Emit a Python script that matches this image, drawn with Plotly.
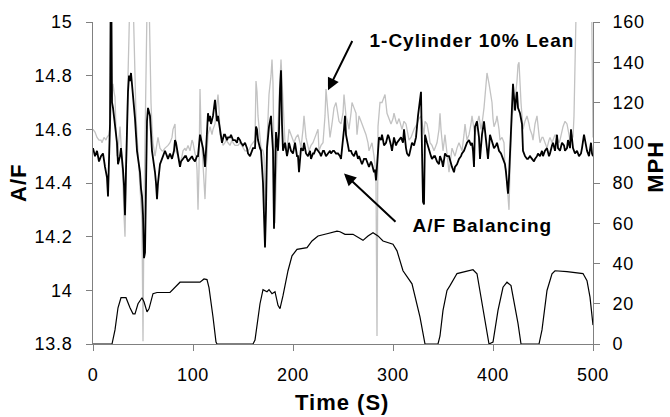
import plotly.graph_objects as go

# ---- A/F balancing (black) ----
t_bal = [0, 2, 4, 6, 8, 10, 12, 14, 15, 16, 17, 18, 19, 20, 22, 24, 25, 27, 28, 29,
         30, 31, 32, 33, 34, 35, 36, 37, 38, 39, 40, 42, 44, 46, 47, 48, 49, 50, 51, 52,
         53, 54, 55, 57, 59, 61, 62, 63, 64, 65, 67, 69, 70, 72, 74, 75, 77, 79, 81, 82,
         83, 85, 87, 88, 90, 92, 93, 95, 97, 99, 100, 102, 104, 105, 107, 109, 110, 111, 112, 113,
         115, 116, 117, 118, 120, 122, 123, 124, 125, 127, 129, 131, 132, 134, 135, 137, 138, 140, 142, 144,
         145, 147, 148, 150, 152, 154, 155, 157, 159, 160, 162, 163, 164, 165, 167, 168, 170, 171, 172, 173,
         174, 176, 178, 179, 180, 181, 182, 183, 185, 186, 187, 188, 189, 190, 192, 194, 195, 196, 198, 200,
         202, 204, 205, 206, 208, 210, 211, 213, 215, 217, 218, 220, 221, 223, 225, 227, 228, 230, 231, 233,
         235, 237, 238, 240, 241, 243, 245, 247, 248, 249, 251, 252, 253, 255, 256, 258, 259, 261, 263, 265,
         266, 268, 269, 271, 273, 275, 276, 278, 279, 281, 282, 283, 284, 286, 288, 289, 291, 293, 295, 296,
         298, 299, 301, 303, 304, 306, 308, 310, 311, 313, 314, 316, 317, 319, 321, 323, 325, 327, 328, 329,
         330, 331, 332, 334, 336, 338, 339, 341, 342, 344, 346, 347, 349, 350, 352, 354, 356, 358, 359, 361,
         362, 364, 366, 368, 369, 371, 372, 374, 376, 378, 379, 380, 381, 382, 384, 385, 386, 387, 388, 389,
         391, 393, 394, 395, 397, 399, 401, 403, 404, 406, 408, 409, 411, 412, 413, 414, 415, 416, 417, 418,
         419, 420, 421, 422, 423, 424, 425, 427, 429, 430, 432, 434, 435, 437, 439, 441, 442, 444, 445, 447,
         449, 450, 452, 454, 456, 457, 459, 460, 462, 464, 465, 467, 469, 471, 472, 474, 475, 477, 478, 480,
         482, 484, 486, 488, 489, 491, 493, 494, 496, 498, 499, 500]
af_bal = [14.53, 14.50, 14.52, 14.48, 14.50, 14.51, 14.46, 14.42, 14.35, 14.48, 14.62, 15.30, 14.70, 14.68, 14.62, 14.55, 14.47, 14.50, 14.53, 14.50,
          14.45, 14.39, 14.28, 14.45, 14.61, 14.74, 14.80, 14.78, 14.81, 14.77, 14.72, 14.64, 14.52, 14.47, 14.44, 14.38, 14.35, 14.28, 14.12, 14.14,
          14.42, 14.63, 14.68, 14.65, 14.52, 14.47, 14.44, 14.40, 14.34, 14.40, 14.47, 14.49, 14.50, 14.52, 14.50, 14.49, 14.51, 14.49, 14.52, 14.56,
          14.55, 14.51, 14.46, 14.48, 14.49, 14.50, 14.50, 14.48, 14.49, 14.50, 14.49, 14.48, 14.50, 14.50, 14.58, 14.55, 14.53, 14.50, 14.46, 14.52,
          14.66, 14.63, 14.65, 14.62, 14.65, 14.71, 14.67, 14.63, 14.65, 14.60, 14.55, 14.58, 14.58, 14.56, 14.57, 14.57, 14.58, 14.56, 14.56, 14.55,
          14.57, 14.56, 14.55, 14.54, 14.55, 14.53, 14.51, 14.50, 14.52, 14.53, 14.53, 14.61, 14.60, 14.56, 14.53, 14.52, 14.40, 14.30, 14.16, 14.30,
          14.53, 14.61, 14.65, 14.58, 14.52, 14.23, 14.45, 14.59, 14.52, 14.59, 14.75, 14.82, 14.62, 14.52, 14.55, 14.50, 14.52, 14.55, 14.52, 14.51,
          14.55, 14.50, 14.50, 14.44, 14.53, 14.52, 14.55, 14.51, 14.50, 14.52, 14.49, 14.51, 14.51, 14.53, 14.52, 14.51, 14.50, 14.52, 14.52, 14.50,
          14.51, 14.52, 14.51, 14.52, 14.52, 14.51, 14.51, 14.50, 14.49, 14.52, 14.60, 14.65, 14.58, 14.54, 14.52, 14.52, 14.51, 14.50, 14.52, 14.49,
          14.50, 14.48, 14.47, 14.49, 14.49, 14.47, 14.46, 14.48, 14.47, 14.44, 14.45, 14.41, 14.47, 14.57, 14.56, 14.58, 14.54, 14.55, 14.58, 14.57,
          14.54, 14.52, 14.57, 14.54, 14.55, 14.56, 14.57, 14.55, 14.60, 14.53, 14.51, 14.50, 14.52, 14.55, 14.54, 14.57, 14.65, 14.73, 14.74, 14.52,
          14.33, 14.32, 14.58, 14.55, 14.52, 14.50, 14.49, 14.50, 14.50, 14.48, 14.47, 14.50, 14.48, 14.46, 14.51, 14.50, 14.50, 14.47, 14.46, 14.44,
          14.46, 14.47, 14.49, 14.50, 14.51, 14.52, 14.53, 14.55, 14.56, 14.54, 14.55, 14.52, 14.46, 14.61, 14.63, 14.60, 14.57, 14.49, 14.55, 14.58,
          14.63, 14.57, 14.52, 14.49, 14.58, 14.55, 14.53, 14.54, 14.55, 14.52, 14.51, 14.50, 14.48, 14.47, 14.44, 14.40, 14.36, 14.42, 14.52, 14.62,
          14.70, 14.77, 14.72, 14.67, 14.71, 14.74, 14.68, 14.66, 14.62, 14.52, 14.50, 14.49, 14.49, 14.50, 14.49, 14.48, 14.49, 14.50, 14.51, 14.50,
          14.52, 14.50, 14.52, 14.53, 14.50, 14.51, 14.54, 14.55, 14.52, 14.58, 14.53, 14.52, 14.55, 14.54, 14.52, 14.53, 14.56, 14.53, 14.60, 14.53,
          14.51, 14.52, 14.50, 14.51, 14.53, 14.58, 14.54, 14.52, 14.50, 14.55, 14.51, 14.50]

# ---- 1-Cylinder 10% lean (gray) ----
t_lean = [0, 2, 4, 6, 8, 9, 11, 13, 14, 16, 17, 18, 19, 20, 21, 22, 23, 24, 25, 26,
          27, 28, 29, 30, 31, 32, 33, 34, 35, 36, 37, 38, 39, 40, 41, 42, 43, 44, 46, 47,
          48, 49, 50, 51, 52, 53, 54, 55, 56, 57, 58, 59, 60, 62, 63, 64, 65, 67, 69, 70,
          72, 75, 77, 79, 80, 82, 83, 85, 87, 89, 90, 92, 93, 95, 97, 99, 100, 102, 103, 104,
          105, 106, 107, 108, 109, 110, 112, 113, 115, 117, 119, 120, 122, 123, 125, 126, 127, 129, 130, 132,
          133, 135, 137, 139, 140, 142, 145, 147, 150, 152, 155, 157, 158, 160, 162, 163, 164, 165, 167, 168,
          170, 171, 172, 173, 174, 176, 178, 179, 180, 181, 182, 183, 184, 186, 188, 189, 190, 192, 193, 195,
          196, 198, 200, 201, 203, 205, 207, 208, 210, 211, 213, 215, 216, 218, 220, 222, 224, 225, 226, 228,
          230, 232, 233, 234, 235, 237, 239, 240, 241, 243, 245, 246, 248, 250, 251, 253, 255, 256, 258, 259,
          261, 263, 264, 266, 268, 269, 271, 273, 275, 276, 278, 279, 281, 282, 283, 284, 285, 287, 289, 291,
          292, 294, 296, 298, 300, 301, 303, 304, 306, 309, 311, 313, 316, 318, 319, 321, 324, 326, 328, 330,
          331, 332, 334, 336, 337, 339, 341, 343, 344, 346, 347, 348, 350, 352, 354, 356, 358, 359, 361, 362,
          364, 366, 368, 369, 371, 372, 374, 376, 378, 379, 381, 382, 384, 386, 388, 389, 391, 392, 393, 394,
          396, 398, 399, 400, 401, 403, 404, 406, 407, 409, 411, 412, 413, 414, 415, 416, 417, 419, 421, 422,
          424, 425, 426, 427, 428, 429, 430, 432, 434, 436, 437, 439, 440, 442, 444, 446, 447, 449, 450, 452,
          454, 456, 457, 459, 460, 462, 464, 466, 467, 469, 470, 472, 474, 476, 477, 479, 480, 481, 482, 483,
          485, 490, 495, 498, 499, 500]
af_lean = [14.60, 14.59, 14.57, 14.56, 14.56, 14.55, 14.57, 14.56, 14.57, 14.58, 14.61, 14.66, 14.72, 14.77, 14.74, 14.72, 14.60, 14.50, 14.52, 14.58,
           14.61, 14.55, 14.49, 14.40, 14.28, 14.20, 14.40, 14.65, 14.80, 14.95, 15.20, 15.30, 15.20, 15.10, 14.90, 14.77, 14.65, 14.58, 14.47, 14.40,
           14.32, 14.25, 13.81, 14.30, 14.60, 14.85, 15.10, 15.30, 15.10, 14.85, 14.70, 14.61, 14.55, 14.50, 14.53, 14.55, 14.57, 14.53, 14.52, 14.52,
           14.53, 14.54, 14.55, 14.57, 14.60, 14.62, 14.52, 14.50, 14.47, 14.50, 14.52, 14.53, 14.52, 14.54, 14.52, 14.56, 14.55, 14.51, 14.50, 14.45,
           14.30, 14.45, 14.75, 14.60, 14.52, 14.50, 14.34, 14.44, 14.58, 14.61, 14.58, 14.60, 14.62, 14.66, 14.73, 14.68, 14.58, 14.56, 14.54, 14.55,
           14.56, 14.55, 14.54, 14.56, 14.55, 14.54, 14.54, 14.55, 14.53, 14.52, 14.52, 14.53, 14.54, 14.55, 14.56, 14.78, 14.74, 14.65, 14.56, 14.53,
           14.52, 14.50, 14.30, 14.39, 14.55, 14.73, 14.80, 14.86, 14.77, 14.55, 14.25, 14.40, 14.52, 14.71, 14.86, 14.78, 14.65, 14.55, 14.52, 14.56,
           14.60, 14.58, 14.56, 14.55, 14.57, 14.58, 14.55, 14.53, 14.60, 14.65, 14.57, 14.53, 14.52, 14.54, 14.55, 14.57, 14.59, 14.60, 14.52, 14.54,
           14.55, 14.65, 14.75, 14.70, 14.65, 14.57, 14.62, 14.65, 14.68, 14.70, 14.66, 14.63, 14.62, 14.66, 14.73, 14.65, 14.62, 14.60, 14.66, 14.70,
           14.68, 14.66, 14.58, 14.65, 14.63, 14.62, 14.60, 14.58, 14.55, 14.52, 14.54, 14.55, 14.50, 14.47, 14.40, 13.83, 14.61, 14.70, 14.70, 14.72,
           14.73, 14.66, 14.64, 14.62, 14.64, 14.66, 14.63, 14.62, 14.64, 14.60, 14.63, 14.62, 14.56, 14.57, 14.58, 14.60, 14.62, 14.64, 14.65, 14.60,
           14.58, 14.63, 14.62, 14.58, 14.55, 14.54, 14.52, 14.54, 14.55, 14.60, 14.66, 14.60, 14.52, 14.58, 14.52, 14.44, 14.50, 14.53, 14.51, 14.50,
           14.53, 14.55, 14.53, 14.52, 14.58, 14.62, 14.56, 14.58, 14.62, 14.65, 14.60, 14.58, 14.62, 14.65, 14.60, 14.62, 14.68, 14.72, 14.78, 14.81,
           14.77, 14.72, 14.70, 14.64, 14.61, 14.63, 14.65, 14.60, 14.56, 14.57, 14.55, 14.46, 14.45, 14.40, 14.36, 14.30, 14.45, 14.65, 14.69, 14.71,
           14.78, 14.84, 14.85, 14.76, 14.70, 14.65, 14.60, 14.63, 14.65, 14.62, 14.60, 14.58, 14.56, 14.62, 14.65, 14.58, 14.55, 14.57, 14.57, 14.55,
           14.53, 14.56, 14.57, 14.55, 14.56, 14.58, 14.57, 14.55, 14.56, 14.60, 14.61, 14.63, 14.62, 14.58, 14.56, 14.58, 14.57, 14.65, 14.85, 15.30,
           15.40, 15.40, 15.40, 15.30, 14.72, 14.57]

# ---- Vehicle speed (MPH, right axis) ----
t_spd = [0, 19, 22, 25, 28, 33, 37, 40, 42, 45, 49, 51, 54, 56, 60, 64, 77, 80, 87, 107,
         111, 114, 116, 120, 123, 124, 160, 162, 167, 170, 174, 176, 179, 182, 185, 187, 190, 195, 199, 204,
         214, 219, 225, 234, 244, 247, 252, 260, 270, 275, 280, 285, 290, 300, 304, 310, 319, 327, 332, 345,
         347, 350, 354, 357, 364, 372, 380, 384, 390, 396, 400, 405, 410, 414, 418, 421, 425, 428, 446, 449,
         454, 459, 462, 474, 479, 490, 494, 497, 500]
mph = [0, 0, 7, 18, 23, 23, 18, 15, 15, 20, 23, 21, 16, 17.5, 25, 25.6, 25.6, 27, 30.7, 30.7,
       32.3, 32, 28, 13.4, 1, 0, 0, 2, 20, 27, 26, 27, 25, 26, 19.2, 17.6, 24, 36.4, 43.8, 47,
       47.9, 51.2, 53.7, 54.8, 56.1, 55.8, 54.5, 54.5, 51.5, 53.7, 55.3, 53.7, 51.2, 49.6, 46.3, 36.4, 29.9, 13.4, 0, 0,
       4, 16.7, 26.6, 29, 35, 36, 36.9, 34.9, 16.7, 0, 1, 16.7, 28.2, 30.7, 29, 21.7, 10.2, 0, 0, 7,
       26.6, 34.9, 36.4, 36, 35.6, 35, 31.5, 23.3, 9.4]

x_ticks = [0, 100, 200, 300, 400, 500]
af_ticks = [13.8, 14.0, 14.2, 14.4, 14.6, 14.8, 15.0]
af_tick_labels = ["13.8", "14", "14.2", "14.4", "14.6", "14.8", "15"]
mph_ticks = [0, 20, 40, 60, 80, 100, 120, 140, 160]

AX = "#808080"
FONT = "Liberation Sans, Arial, sans-serif"

fig = go.Figure()
fig.add_trace(go.Scatter(x=t_lean, y=af_lean, mode="lines",
                         line=dict(color="#c2c2c2", width=1.3), showlegend=False))
fig.add_trace(go.Scatter(x=t_bal, y=af_bal, mode="lines",
                         line=dict(color="#000000", width=1.8), showlegend=False))
fig.add_trace(go.Scatter(x=t_spd, y=mph, mode="lines", yaxis="y2",
                         line=dict(color="#000000", width=1.2), showlegend=False))

tickfont = dict(family=FONT, size=18, color="#000000")
common = dict(showgrid=False, zeroline=False, tickcolor=AX, ticklen=6, tickwidth=1)

fig.update_layout(
    width=670, height=417,
    margin=dict(l=93, r=77, t=20, b=73),
    paper_bgcolor="white", plot_bgcolor="white",
    xaxis=dict(range=[0, 500], tickvals=x_ticks, ticks="outside", showline=True,
               linecolor=AX, linewidth=1, tickfont=tickfont, ticklabelstandoff=8, **common),
    xaxis2=dict(range=[0, 500], tickvals=x_ticks, ticks="inside", overlaying="x",
                anchor="y", side="bottom", showticklabels=False, showline=False, **common),
    yaxis=dict(range=[13.8, 15.0], tickvals=af_ticks, ticktext=af_tick_labels, ticks="outside",
               showline=True, linecolor=AX, linewidth=1, tickfont=tickfont,
               ticklabelstandoff=10, **common),
    yaxis2=dict(range=[0, 160], tickvals=mph_ticks, ticks="outside", overlaying="y",
                side="right", anchor="x", showline=True, linecolor=AX, linewidth=1,
                tickfont=tickfont, ticklabelstandoff=9, **common),
    yaxis3=dict(range=[13.8, 15.0], tickvals=af_ticks, ticks="inside", overlaying="y",
                side="left", anchor="x", showticklabels=False, showline=False, **common),
    yaxis4=dict(range=[0, 160], tickvals=mph_ticks, ticks="inside", overlaying="y",
                side="right", anchor="x", showticklabels=False, showline=False, **common),
)

bold = dict(family=FONT, color="#000000", weight="bold")
fig.add_annotation(text="A/F", xref="paper", yref="paper", x=-0.151, y=0.5,
                   textangle=-90, showarrow=False, font=dict(size=22, **bold),
                   xanchor="center", yanchor="middle")
fig.add_annotation(text="MPH", xref="paper", yref="paper", x=1.124, y=0.549,
                   textangle=-90, showarrow=False, font=dict(size=22, **bold),
                   xanchor="center", yanchor="middle")
fig.add_annotation(text="Time (S)", xref="paper", yref="paper", x=0.498, y=-0.182,
                   showarrow=False, font=dict(size=22, **bold),
                   xanchor="center", yanchor="middle")
fig.add_annotation(text="1-Cylinder 10% Lean", x=378.5, y=14.93, xref="x", yref="y",
                   showarrow=False, font=dict(size=19, **bold), xanchor="center", yanchor="middle")
fig.add_annotation(text="A/F Balancing", x=389.5, y=14.24, xref="x", yref="y",
                   showarrow=False, font=dict(size=19, **bold), xanchor="center", yanchor="middle")
# arrows
fig.add_annotation(text="", x=235, y=14.746, ax=260, ay=14.935, xref="x", yref="y",
                   axref="x", ayref="y", showarrow=True, arrowhead=2, arrowsize=1.2,
                   arrowwidth=2, arrowcolor="#000000")
fig.add_annotation(text="", x=251, y=14.435, ax=304, ay=14.25, xref="x", yref="y",
                   axref="x", ayref="y", showarrow=True, arrowhead=2, arrowsize=1.2,
                   arrowwidth=2, arrowcolor="#000000")

post = ("var s=document.createElement('style');"
        "s.innerHTML='html,body{margin:0;padding:0;overflow:hidden}"
        " .xtick text,.ytick text,.y2tick text{letter-spacing:0.7px}"
        " .annotation-text{letter-spacing:1px}';"
        "document.head.appendChild(s);")
fig.write_html("out.html", post_script=post, config={"displayModeBar": False})
